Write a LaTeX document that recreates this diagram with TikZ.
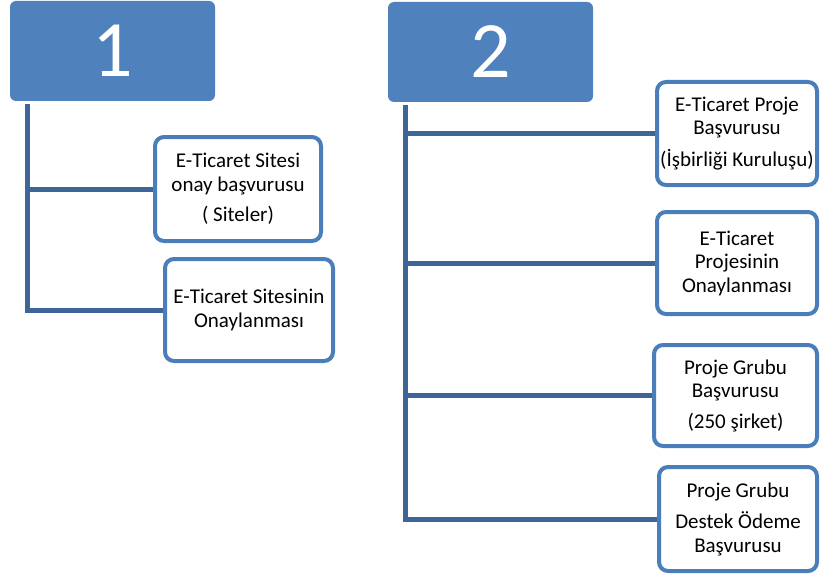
\documentclass[tikz,border=0pt]{standalone}
\usepackage{fontspec}
\setmainfont{Carlito}
\definecolor{hdrblue}{HTML}{4F81BD}
\definecolor{edgeblue}{HTML}{4A7EBB}
\definecolor{linkblue}{HTML}{3D6597}
\begin{document}
\begin{tikzpicture}[x=1pt,y=-1pt,
  header/.style={fill=hdrblue,draw=none,rounded corners=6pt,
    minimum width=205pt,minimum height=100pt,text=white,
    font=\fontsize{80}{80}\selectfont,inner sep=0pt},
  item/.style={draw=edgeblue,line width=4pt,fill=white,rounded corners=9pt,
    align=center,inner sep=0pt,font=\fontsize{21}{23.5}\selectfont},
  link/.style={draw=linkblue,line width=5pt,line join=miter}]
\useasboundingbox (0,0) rectangle (821,575);

% headers
\node[header] (h1) at (112.5,51) {1};
\node[header] (h2) at (490.5,52) {2};

% first group
\node[item,minimum width=166pt,minimum height=104pt] (a1) at (238,189)
  {E-Ticaret Sitesi\\onay başvurusu\\[7pt]( Siteler)};
\node[item,minimum width=168pt,minimum height=102pt] (a2) at (249,310)
  {E-Ticaret Sitesinin\\Onaylanması};

% second group
\node[item,minimum width=160pt,minimum height=103pt] (b1) at (737,133.5)
  {E-Ticaret Proje\\Başvurusu\\[8pt](İşbirliği Kuruluşu)};
\node[item,minimum width=160pt,minimum height=102pt] (b2) at (737,263)
  {E-Ticaret\\Projesinin\\Onaylanması};
\node[item,minimum width=163pt,minimum height=101pt] (b3) at (735.5,395.5)
  {Proje Grubu\\Başvurusu\\[7pt](250 şirket)};
\node[item,minimum width=158pt,minimum height=104pt] (b4) at (738,519)
  {Proje Grubu\\[8pt]Destek Ödeme\\Başvurusu};

% connectors
\coordinate (r1) at ([xshift=18pt,yshift=-3pt]h1.south west);
\coordinate (r2) at ([xshift=18pt,yshift=-3pt]h2.south west);
\draw[link] (r1) |- (a1.west);
\draw[link] (r1) |- (a2.west);
\draw[link] (r2) |- (b1.west);
\draw[link] (r2) |- (b2.west);
\draw[link] (r2) |- (b3.west);
\draw[link] (r2) |- (b4.west);
\end{tikzpicture}
\end{document}
